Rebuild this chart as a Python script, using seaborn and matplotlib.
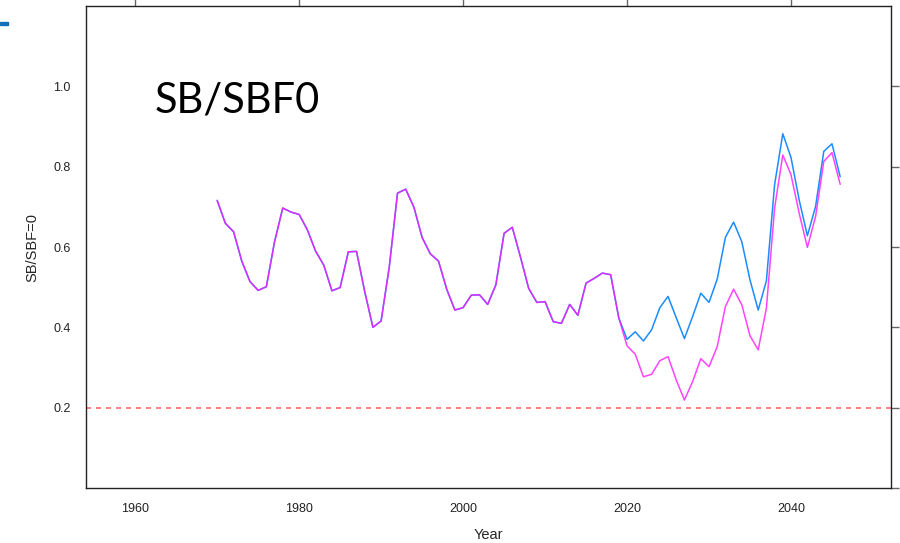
import numpy as np
import pandas as pd
import matplotlib
matplotlib.use("Agg")
import matplotlib.pyplot as plt
import seaborn as sns

# ---- data ----
hist_years = list(range(1970, 2020))
hist_vals = [0.716, 0.659, 0.638, 0.565, 0.514, 0.492, 0.501, 0.613, 0.697, 0.687,
             0.681, 0.643, 0.590, 0.555, 0.491, 0.499, 0.588, 0.589, 0.489, 0.400,
             0.416, 0.551, 0.734, 0.744, 0.699, 0.624, 0.583, 0.565, 0.495, 0.443,
             0.449, 0.480, 0.481, 0.457, 0.506, 0.634, 0.649, 0.575, 0.497, 0.462,
             0.464, 0.414, 0.410, 0.457, 0.430, 0.510, 0.522, 0.535, 0.531, 0.423]
proj_years = list(range(2020, 2047))
blue_vals = [0.370, 0.389, 0.366, 0.394, 0.449, 0.477, 0.424, 0.372, 0.427, 0.485,
             0.462, 0.520, 0.624, 0.662, 0.613, 0.518, 0.443, 0.516, 0.755, 0.882,
             0.823, 0.717, 0.628, 0.701, 0.838, 0.857, 0.775]
magenta_vals = [0.354, 0.333, 0.277, 0.283, 0.317, 0.327, 0.269, 0.219, 0.265, 0.322,
                0.302, 0.352, 0.452, 0.495, 0.456, 0.379, 0.344, 0.448, 0.697, 0.829,
                0.780, 0.684, 0.599, 0.676, 0.813, 0.835, 0.756]
ref_level = 0.2
x_ticks = [1960, 1980, 2000, 2020, 2040]
y_ticks = [0.0, 0.2, 0.4, 0.6, 0.8, 1.0]
y_labels = ["", "0.2", "0.4", "0.6", "0.8", "1.0"]

df_blue = pd.DataFrame({"Year": hist_years + proj_years, "val": hist_vals + blue_vals})
df_mag = pd.DataFrame({"Year": hist_years + proj_years, "val": hist_vals + magenta_vals})

sns.set_style("white")
plt.rcParams["font.family"] = ["Liberation Sans", "DejaVu Sans"]

fig = plt.figure(figsize=(9, 5.43), dpi=100)
ax = fig.add_axes([86/900, 55/543, (891-86)/900, (488-6)/543])

sns.lineplot(data=df_blue, x="Year", y="val", ax=ax, color="#1a8cff", lw=1.1)
sns.lineplot(data=df_mag, x="Year", y="val", ax=ax, color="#ff1aff", lw=1.1, alpha=0.82)
ax.axhline(ref_level, color="#ff5a5a", ls=(0, (3, 3)), lw=1.2, alpha=0.9)

ax.set_xlim(1954.0, 2052.2)
ax.set_ylim(0.0, 1.2)
ax.set_xticks(x_ticks)
ax.set_xticklabels([str(t) for t in x_ticks])
ax.set_yticks(y_ticks)
ax.set_yticklabels(y_labels)
ax.tick_params(axis="both", which="both", direction="out", length=6, width=1.0,
               color="#666666", labelsize=9, labelcolor="#222222", top=True, right=True,
               labeltop=False, labelright=False, pad=5)
for s in ax.spines.values():
    s.set_visible(True)
    s.set_color("#222222")
    s.set_linewidth(1.0)

ax.set_xlabel("Year", fontsize=10.5, labelpad=9)
ax.set_ylabel("SB/SBF=0", fontsize=10.5, labelpad=10)

ax.text(1962.4, 0.936, "SB/SBF0", fontsize=30, family=["Lato", "DejaVu Sans"],
        color="black", va="baseline", ha="left")

# small blue slide mark at top-left
fig.add_artist(matplotlib.patches.Rectangle((0, 1 - 25/543), 8/900, 3/543,
               transform=fig.transFigure, color="#1170b8", clip_on=False))

fig.savefig("out.png", dpi=100)
